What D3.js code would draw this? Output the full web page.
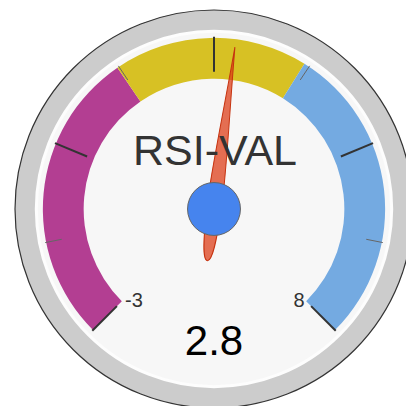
<!DOCTYPE html>
<html>
<head>
<meta charset="utf-8">
<script src="https://cdn.jsdelivr.net/npm/d3@7"></script>
<style>
  html, body { margin: 0; padding: 0; background: #ffffff; }
  svg { display: block; }
</style>
</head>
<body>
<div id="chart"></div>
<script>
// ---- data ----
const gaugeLabels = ["RSI-VAL"];
const gaugeValues = [2.8];
const scaleDomain = [-3, 8];
const bandFrom = [-3, 1.1, 3.8];
const bandTo = [1.1, 3.8, 8];
const bandColors = ["#b33e92", "#d7c124", "#74aae1"];
const tickLabels = ["-3", "8"];
const majorTickCount = 5;
const minorTicksPerGap = 1;

// ---- layout ----
const W = 406, H = 406;
const cx = 214, cy = 209, R = 199;

const svg = d3.select("#chart").append("svg")
  .attr("width", W).attr("height", H);

const angle = d3.scaleLinear().domain(scaleDomain).range([-135 * Math.PI / 180, 135 * Math.PI / 180]);
const pt = (a, r) => [cx + r * Math.sin(a), cy - r * Math.cos(a)];

// outer ring
svg.append("circle").attr("cx", cx).attr("cy", cy).attr("r", R)
  .attr("fill", "#cccccc").attr("stroke", "#333333").attr("stroke-width", 1.2);
// inner face
svg.append("circle").attr("cx", cx).attr("cy", cy).attr("r", R * 0.893)
  .attr("fill", "#f7f7f7").attr("stroke", "#fdfdfd").attr("stroke-width", 3);

const g = svg.append("g").attr("transform", `translate(${cx},${cy})`);

// bands
const arc = d3.arc().innerRadius(R * 0.655).outerRadius(R * 0.86);
g.selectAll("path.band").data(bandFrom.map((f, i) => ({ f, t: bandTo[i], c: bandColors[i] })))
  .join("path").attr("class", "band")
  .attr("d", d => arc({ startAngle: angle(d.f), endAngle: angle(d.t) }))
  .attr("fill", d => d.c);

// ticks
const [vmin, vmax] = scaleDomain;
const majorVals = d3.range(majorTickCount).map(i => vmin + i * (vmax - vmin) / (majorTickCount - 1));
const minorVals = [];
for (let i = 0; i < majorTickCount - 1; i++) {
  for (let j = 1; j <= minorTicksPerGap; j++) {
    minorVals.push(majorVals[i] + j * (majorVals[i + 1] - majorVals[i]) / (minorTicksPerGap + 1));
  }
}
svg.selectAll("line.major").data(majorVals).join("line").attr("class", "major")
  .attr("x1", d => pt(angle(d), R * 0.865)[0]).attr("y1", d => pt(angle(d), R * 0.865)[1])
  .attr("x2", d => pt(angle(d), R * 0.69)[0]).attr("y2", d => pt(angle(d), R * 0.69)[1])
  .attr("stroke", "#333333").attr("stroke-width", 2);
svg.selectAll("line.minor").data(minorVals).join("line").attr("class", "minor")
  .attr("x1", d => pt(angle(d), R * 0.865)[0]).attr("y1", d => pt(angle(d), R * 0.865)[1])
  .attr("x2", d => pt(angle(d), R * 0.78)[0]).attr("y2", d => pt(angle(d), R * 0.78)[1])
  .attr("stroke", "#666666").attr("stroke-width", 1);

const font = "Arial, 'Liberation Sans', sans-serif";

// min / max labels
svg.append("text").attr("x", cx - R * 0.447).attr("y", cy + R * 0.49)
  .attr("text-anchor", "start").attr("font-family", font).attr("font-size", 20)
  .attr("fill", "#333333").text(tickLabels[0]);
svg.append("text").attr("x", cx + R * 0.455).attr("y", cy + R * 0.49)
  .attr("text-anchor", "end").attr("font-family", font).attr("font-size", 20)
  .attr("fill", "#333333").text(tickLabels[1]);

// title
svg.append("text").attr("x", cx + 1).attr("y", cy - 44)
  .attr("text-anchor", "middle").attr("font-family", font).attr("font-size", 43)
  .attr("fill", "#333333").text(gaugeLabels[0]);

// value
svg.append("text").attr("x", cx).attr("y", cy + 146)
  .attr("text-anchor", "middle").attr("font-family", font).attr("font-size", 42)
  .attr("fill", "#000000").text(d3.format(".1f")(gaugeValues[0]));

// needle
const tipL = R * 0.82, tailL = R * 0.262, hw = R * 0.037;
const needlePath = d3.path();
needlePath.moveTo(0, -tipL);
needlePath.bezierCurveTo(hw * 0.4, -tipL * 0.6, hw * 1.1, -tipL * 0.2, hw, 0);
needlePath.bezierCurveTo(hw * 0.9, tailL * 0.6, hw * 0.7, tailL, 0, tailL);
needlePath.bezierCurveTo(-hw * 0.7, tailL, -hw * 0.9, tailL * 0.6, -hw, 0);
needlePath.bezierCurveTo(-hw * 1.1, -tipL * 0.2, -hw * 0.4, -tipL * 0.6, 0, -tipL);
needlePath.closePath();
g.append("path").attr("d", needlePath.toString())
  .attr("transform", `rotate(${angle(gaugeValues[0]) * 180 / Math.PI})`)
  .attr("fill", "#dc3912").attr("fill-opacity", 0.72)
  .attr("stroke", "#c63310").attr("stroke-width", 1);

// hub
g.append("circle").attr("r", R * 0.133)
  .attr("fill", "#4684ee").attr("stroke", "#666666").attr("stroke-width", 1);
</script>
</body>
</html>
